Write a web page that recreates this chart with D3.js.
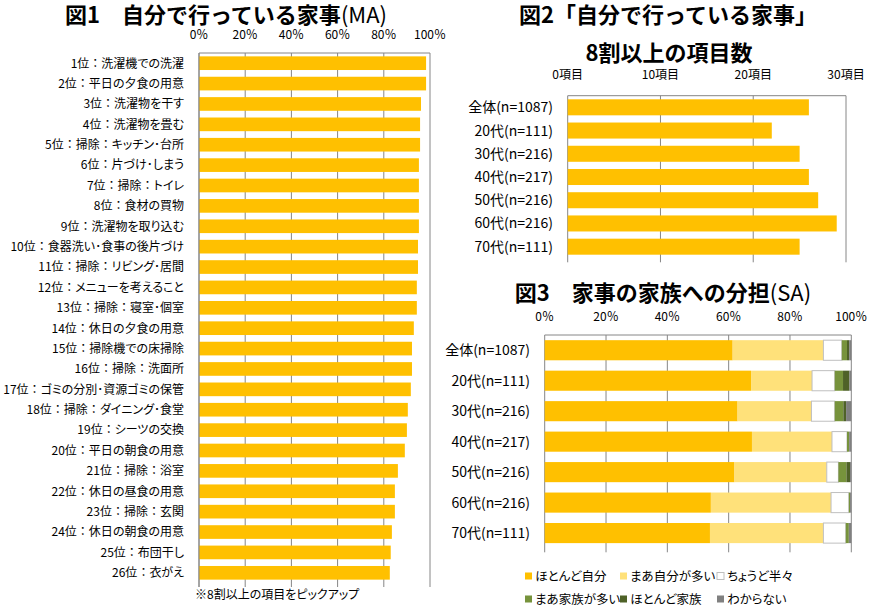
<!DOCTYPE html>
<html><head><meta charset="utf-8">
<script src="https://cdn.jsdelivr.net/npm/d3@7"></script>
<style>
body{margin:0;background:#fff;}
svg{display:block;font-family:"Noto Sans CJK JP","Noto Sans",sans-serif;}
.p{font-feature-settings:"palt";}
.n{font-feature-settings:normal;}
</style></head>
<body><svg id="c" width="871" height="610"></svg>
<script>
// ---------- Data ----------
const fig1Labels = ["1位：洗濯機での洗濯","2位：平日の夕食の用意","3位：洗濯物を干す","4位：洗濯物を畳む","5位：掃除：キッチン･台所","6位：片づけ･しまう","7位：掃除：トイレ","8位：食材の買物","9位：洗濯物を取り込む","10位：食器洗い･食事の後片づけ","11位：掃除：リビング･居間","12位：メニューを考えること","13位：掃除：寝室･個室","14位：休日の夕食の用意","15位：掃除機での床掃除","16位：掃除：洗面所","17位：ゴミの分別･資源ゴミの保管","18位：掃除：ダイニング･食堂","19位：シーツの交換","20位：平日の朝食の用意","21位：掃除：浴室","22位：休日の昼食の用意","23位：掃除：玄関","24位：休日の朝食の用意","25位：布団干し","26位：衣がえ"];
const fig1Values = [98.3,98.3,96.1,95.7,95.7,95.2,95.2,95.2,95.2,94.8,94.8,94.3,94.3,93.0,92.2,92.2,91.7,90.4,90.0,89.1,86.1,84.8,84.8,83.5,83.0,82.6];
const fig1Ticks = [0,20,40,60,80,100];

const groupLabels = ["全体(n=1087)","20代(n=111)","30代(n=216)","40代(n=217)","50代(n=216)","60代(n=216)","70代(n=111)"];
const fig2Values = [26,22,25,26,27,29,25];
const fig2Ticks = [0,10,20,30];

const seriesNames = ["ほとんど自分","まあ自分が多い","ちょうど半々","まあ家族が多い","ほとんど家族","わからない"];
const sMostlySelf   = [61.3,67.3,62.9,67.6,61.9,54.2,53.9];
const sRatherSelf   = [29.6,19.9,24.1,26.1,30.1,39.2,37.0];
const sHalf         = [6.0,7.4,7.6,4.9,3.8,5.8,7.3];
const sRatherFamily = [1.7,2.7,2.8,0.7,2.6,0.4,1.0];
const sMostlyFamily = [0.7,2.1,0.9,0.0,1.2,0.0,0.0];
const sUnknown      = [0.7,0.6,1.7,0.7,0.4,0.4,0.8];
const seriesColors = ["#FFC000","#FFE17A","#FFFFFF","#77933C","#4F6228","#808080"];
const fig3Ticks = [0,20,40,60,80,100];

// ---------- Drawing ----------
const svg = d3.select("#c");
const GRID = "#868686", BAR = "#FFC000";

function hbar(opts){
  const {x0,x1,top,bottom,domain,labels,ticks,tickFmt,labelX,labelSize,tickY,pad,labelClass,splitColon} = opts;
  const x = d3.scaleLinear().domain(domain).range([x0,x1]);
  const y = d3.scaleBand().domain(labels).range([top,bottom]).paddingInner(pad).paddingOuter(pad/2);
  const g = svg.append("g");
  g.selectAll("line.grid").data(ticks).join("line")
    .attr("x1",d=>x(d)).attr("x2",d=>x(d)).attr("y1",top).attr("y2",bottom+4)
    .attr("stroke",GRID).attr("stroke-width",1);
  g.append("line").attr("x1",x0).attr("x2",x1).attr("y1",top).attr("y2",top).attr("stroke",GRID);
  g.selectAll("text.tick").data(ticks).join("text")
    .attr("x",d=>x(d)).attr("y",tickY).attr("text-anchor","middle")
    .attr("font-size",12).attr("fill","#000").text(tickFmt);
  const t = g.selectAll("text.cat").data(labels).join("text")
    .attr("class",labelClass||null)
    .attr("x",labelX).attr("y",d=>y(d)+y.bandwidth()/2).attr("dy","0.36em")
    .attr("text-anchor","end").attr("font-size",labelSize).attr("fill","#000");
  if(splitColon){
    t.each(function(d){
      const parts = d.split("：");
      const el = d3.select(this);
      parts.forEach((p,i)=>{
        if(i>0) el.append("tspan").attr("class","n").text("：");
        el.append("tspan").text(p);
      });
    });
  } else t.text(d=>d);
  return {g,x,y};
}

// Figure 1
{
  const {g,x,y} = hbar({x0:199,x1:430,top:53,bottom:583,domain:[0,100],labels:fig1Labels,
    ticks:fig1Ticks,tickFmt:d=>d+"％",labelX:184,labelSize:12,tickY:39,pad:0.33,labelClass:"p",splitColon:true});
  g.selectAll("rect.bar").data(fig1Values).join("rect")
    .attr("x",x(0)).attr("y",(d,i)=>y(fig1Labels[i])).attr("height",y.bandwidth())
    .attr("width",d=>x(d)-x(0)).attr("fill",BAR);
  g.append("line").attr("x1",x(0)).attr("x2",x(0)).attr("y1",53).attr("y2",587).attr("stroke",GRID);
  svg.append("text").attr("x",226).attr("y",23).attr("text-anchor","middle")
    .attr("font-size",22).attr("font-weight","bold").attr("fill","#000")
    .html('図1　自分で行っている家事<tspan font-weight="normal">(MA)</tspan>');
  svg.append("text").attr("class","p").attr("x",195).attr("y",599).attr("font-size",12).attr("fill","#000")
    .text("※8割以上の項目をピックアップ");
}

// Figure 2
{
  const {g,x,y} = hbar({x0:567.7,x1:846,top:95.7,bottom:258.3,domain:[0,30],labels:groupLabels,
    ticks:fig2Ticks,tickFmt:d=>d+"項目",labelX:553,labelSize:14,tickY:79,pad:0.31});
  g.selectAll("rect.bar").data(fig2Values).join("rect")
    .attr("x",x(0)).attr("y",(d,i)=>y(groupLabels[i])).attr("height",y.bandwidth())
    .attr("width",d=>x(d)-x(0)).attr("fill",BAR);
  svg.append("text").attr("x",668).attr("y",23).attr("text-anchor","middle")
    .attr("font-size",22).attr("font-weight","bold").attr("fill","#000").text("図2「自分で行っている家事」");
  svg.append("text").attr("x",669).attr("y",61).attr("text-anchor","middle")
    .attr("font-size",22).attr("font-weight","bold").attr("fill","#000").text("8割以上の項目数");
}

// Figure 3
{
  const {g,x,y} = hbar({x0:544.7,x1:851.3,top:335,bottom:548.3,domain:[0,100],labels:groupLabels,
    ticks:fig3Ticks,tickFmt:d=>d+"％",labelX:530,labelSize:14,tickY:321,pad:0.34});
  const seriesData = [sMostlySelf,sRatherSelf,sHalf,sRatherFamily,sMostlyFamily,sUnknown];
  const rows = groupLabels.map((lab,i)=>{
    const o={label:lab}; seriesNames.forEach((s,j)=>o[s]=seriesData[j][i]); return o;});
  const stacked = d3.stack().keys(seriesNames)(rows);
  g.selectAll("g.layer").data(stacked).join("g")
    .attr("fill",(d,i)=>seriesColors[i])
    .attr("stroke",(d,i)=>i===2?"#BFBFBF":"none").attr("stroke-width",1)
    .selectAll("rect").data(d=>d).join("rect")
    .attr("x",d=>x(d[0])).attr("width",d=>Math.max(0,x(d[1])-x(d[0])))
    .attr("y",d=>y(d.data.label)).attr("height",y.bandwidth());
  svg.append("text").attr("x",663).attr("y",301).attr("text-anchor","middle")
    .attr("font-size",22).attr("font-weight","bold").attr("fill","#000")
    .html('図3　家事の家族への分担<tspan font-weight="normal">(SA)</tspan>');
  const legX = [525,620,717], legY = [576,599];
  const leg = svg.append("g").selectAll("g").data(seriesNames).join("g")
    .attr("transform",(d,i)=>`translate(${legX[i%3]},${legY[Math.floor(i/3)]})`);
  leg.append("rect").attr("x",0).attr("y",-3.5).attr("width",7).attr("height",7)
    .attr("fill",(d,i)=>seriesColors[i]).attr("stroke",(d,i)=>i===2?"#BFBFBF":"none");
  leg.append("text").attr("class","p").attr("x",10).attr("y",0).attr("dy","0.36em").attr("font-size",12.5)
    .attr("fill","#000").text(d=>d);
}
</script></body></html>
